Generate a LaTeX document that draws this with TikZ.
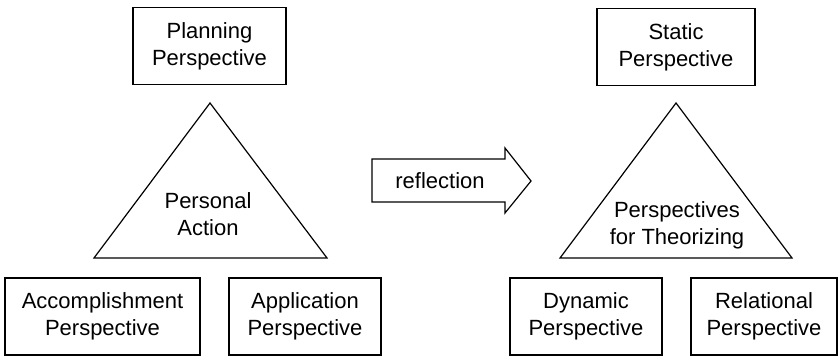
\documentclass[tikz,border=0pt]{standalone}
\usepackage{fontspec}
\setmainfont{Liberation Sans}
\usetikzlibrary{positioning}

\begin{document}
\begin{tikzpicture}[x=0.5pt, y=-0.5pt, line width=0.6pt,
    font=\fontsize{11}{13.5}\selectfont,
    persp/.style={draw, rectangle, align=center, minimum height=38.5pt, inner sep=2pt}]
    \useasboundingbox (0,0) rectangle (838,356);

    % Left side: personal action
    \node[persp, minimum width=76.5pt] (plan) at (209.5,46) {Planning\\Perspective};
    \coordinate (ltop) at (210,103);
    \coordinate (lleft) at (94,258);
    \coordinate (lright) at (327,258);
    \draw (ltop) -- (lleft) -- (lright) -- cycle;
    \node[align=center] (action) at (208,214) {Personal\\Action};
    \node[persp, minimum width=97.5pt] (accomp) at (102.5,316.5) {Accomplishment\\Perspective};
    \node[persp, minimum width=76pt] (appl) at (305,316.5) {Application\\Perspective};

    % Reflection arrow
    \coordinate (a1) at (372,159);
    \coordinate (a2) at (505,159);
    \coordinate (a3) at (505,148);
    \coordinate (a4) at (531,181);
    \coordinate (a5) at (505,213);
    \coordinate (a6) at (505,202);
    \coordinate (a7) at (372,202);
    \draw (a1) -- (a2) -- (a3) -- (a4) -- (a5) -- (a6) -- (a7) -- cycle;
    \node (refl) at (440,181) {reflection};

    % Right side: theorizing
    \node[persp, minimum width=79pt] (static) at (676,47) {Static\\Perspective};
    \coordinate (rtop) at (676,103);
    \coordinate (rleft) at (560,258);
    \coordinate (rright) at (792,258);
    \draw (rtop) -- (rleft) -- (rright) -- cycle;
    \node[align=center] (theory) at (677,225) {Perspectives\\for Theorizing};
    \node[persp, minimum width=76pt] (dyn) at (586,316.5) {Dynamic\\Perspective};
    \node[persp, minimum width=73pt] (rel) at (764,316.5) {Relational\\Perspective};
\end{tikzpicture}
\end{document}
